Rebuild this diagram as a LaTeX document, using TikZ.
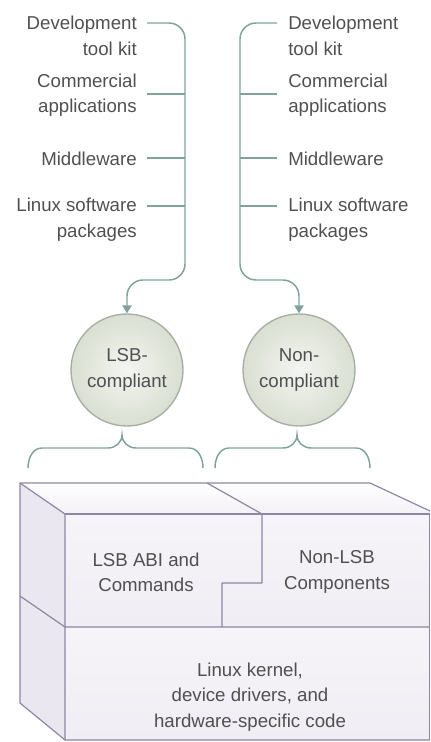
\documentclass[tikz,border=0pt]{standalone}
\usepackage{fontspec}
\setmainfont{Liberation Sans}
\usetikzlibrary{arrows.meta}
\definecolor{conncol}{HTML}{7FA39C}
\definecolor{txtcol}{HTML}{505050}
\definecolor{circfill}{HTML}{D9DFD1}
\definecolor{circedge}{HTML}{A4AEA2}
\definecolor{boxedge}{HTML}{8E86A2}
\definecolor{boxfront}{HTML}{F0EDF4}
\definecolor{boxtop}{HTML}{F5F2F8}
\definecolor{boxside}{HTML}{EBE7F1}
\tikzset{
  lbl/.style={font=\fontsize{14pt}{19pt}\selectfont, text=txtcol, inner sep=0pt},
  conn/.style={draw=conncol, line width=1.1pt},
  arr/.style={conn, rounded corners=12, -{Triangle[width=7pt,length=6pt]}},
  bubble/.style={circle, minimum size=84pt, inner sep=0pt, draw=circedge, line width=1pt,
    inner color=white!70!circfill, outer color=circfill, lbl, align=center},
  edge/.style={draw=boxedge, line width=0.9pt, line join=round},
}
\begin{document}
\begin{tikzpicture}[x=0.75pt,y=-0.75pt]
\useasboundingbox (0,0) rectangle (430,742);
% left column texts
\node[lbl, align=right, anchor=north east] (ldev) at (137,16) {Development\\tool kit};
\node[lbl, align=right, anchor=east] (lcom) at (137,95) {Commercial\\applications};
\node[lbl, align=right, anchor=east] (lmid) at (137,159) {Middleware};
\node[lbl, align=right, anchor=north east] (llin) at (137,198) {Linux software\\packages};
% right column texts
\node[lbl, align=left, anchor=north west] (rdev) at (288,16) {Development\\tool kit};
\node[lbl, align=left, anchor=west] (rcom) at (288,95) {Commercial\\applications};
\node[lbl, align=left, anchor=west] (rmid) at (288,159) {Middleware};
\node[lbl, align=left, anchor=north west] (rlin) at (288,198) {Linux software\\packages};
% circles
\node[bubble] (lsb) at (127,370) {LSB-\\compliant};
\node[bubble] (non) at (299,370) {Non-\\compliant};
% tick coordinates
\coordinate (lt1) at (147,23); \coordinate (lt2) at (147,94);
\coordinate (lt3) at (147,158); \coordinate (lt4) at (147,206);
\coordinate (lv2) at (185,94); \coordinate (lv3) at (185,158); \coordinate (lv4) at (185,206);
\coordinate (rt1) at (277,23); \coordinate (rt2) at (277,94);
\coordinate (rt3) at (277,158); \coordinate (rt4) at (277,206);
\coordinate (rv2) at (240,94); \coordinate (rv3) at (240,158); \coordinate (rv4) at (240,206);
% left connector
\draw[arr] (lt1) -- (185,23) -- (185,280) -- (127,280) -- (lsb.north);
\draw[conn] (lt2) -- (lv2);
\draw[conn] (lt3) -- (lv3);
\draw[conn] (lt4) -- (lv4);
% right connector
\draw[arr] (rt1) -- (240,23) -- (240,280) -- (299,280) -- (non.north);
\draw[conn] (rt2) -- (rv2);
\draw[conn] (rt3) -- (rv3);
\draw[conn] (rt4) -- (rv4);
% braces
\draw[conn] (28,468) to[out=90,in=180] (42,448) -- (108,448)
  to[out=0,in=-90] (122,435) to[out=-90,in=180] (136,448) -- (189,448)
  to[out=0,in=90] (203,468);
\draw[conn] (215,468) to[out=90,in=180] (229,448) -- (283,448)
  to[out=0,in=-90] (297,435) to[out=-90,in=180] (311,448) -- (356,448)
  to[out=0,in=90] (370,468);
% 3D block
\path[fill=boxside] (20,483) -- (65,514) -- (65,740) -- (20,703) -- cycle;
\path[top color=white, bottom color=boxtop!70!boxfront] (20,483) -- (370,483) -- (430,511) -- (430,514) -- (65,514) -- cycle;
\path[top color=white!40!boxfront, bottom color=boxfront] (65,514) rectangle (430,627);
\path[top color=white!40!boxfront, bottom color=boxfront] (65,627) rectangle (430,740);
\draw[edge] (65,740) -- (20,703) -- (20,483) -- (370,483) -- (430,511);
\draw[edge] (20,483) -- (65,514) -- (65,740) -- (430,740);
\draw[edge] (65,514) -- (430,514);
\draw[edge] (207,483) -- (262,514) -- (262,583) -- (222,583) -- (222,627);
\draw[edge] (20,596) -- (65,627) -- (430,627);
\draw[edge] (429.5,514) -- (429.5,740);
% block texts
\node[lbl, align=center] (abi) at (146,572) {LSB ABI and\\Commands};
\node[lbl, align=center] (nlsb) at (337,572) {Non-LSB\\Components};
\node[lbl, align=center] (kern) at (250,697) {Linux kernel,\\device drivers, and\\hardware-specific code};
\end{tikzpicture}
\end{document}
